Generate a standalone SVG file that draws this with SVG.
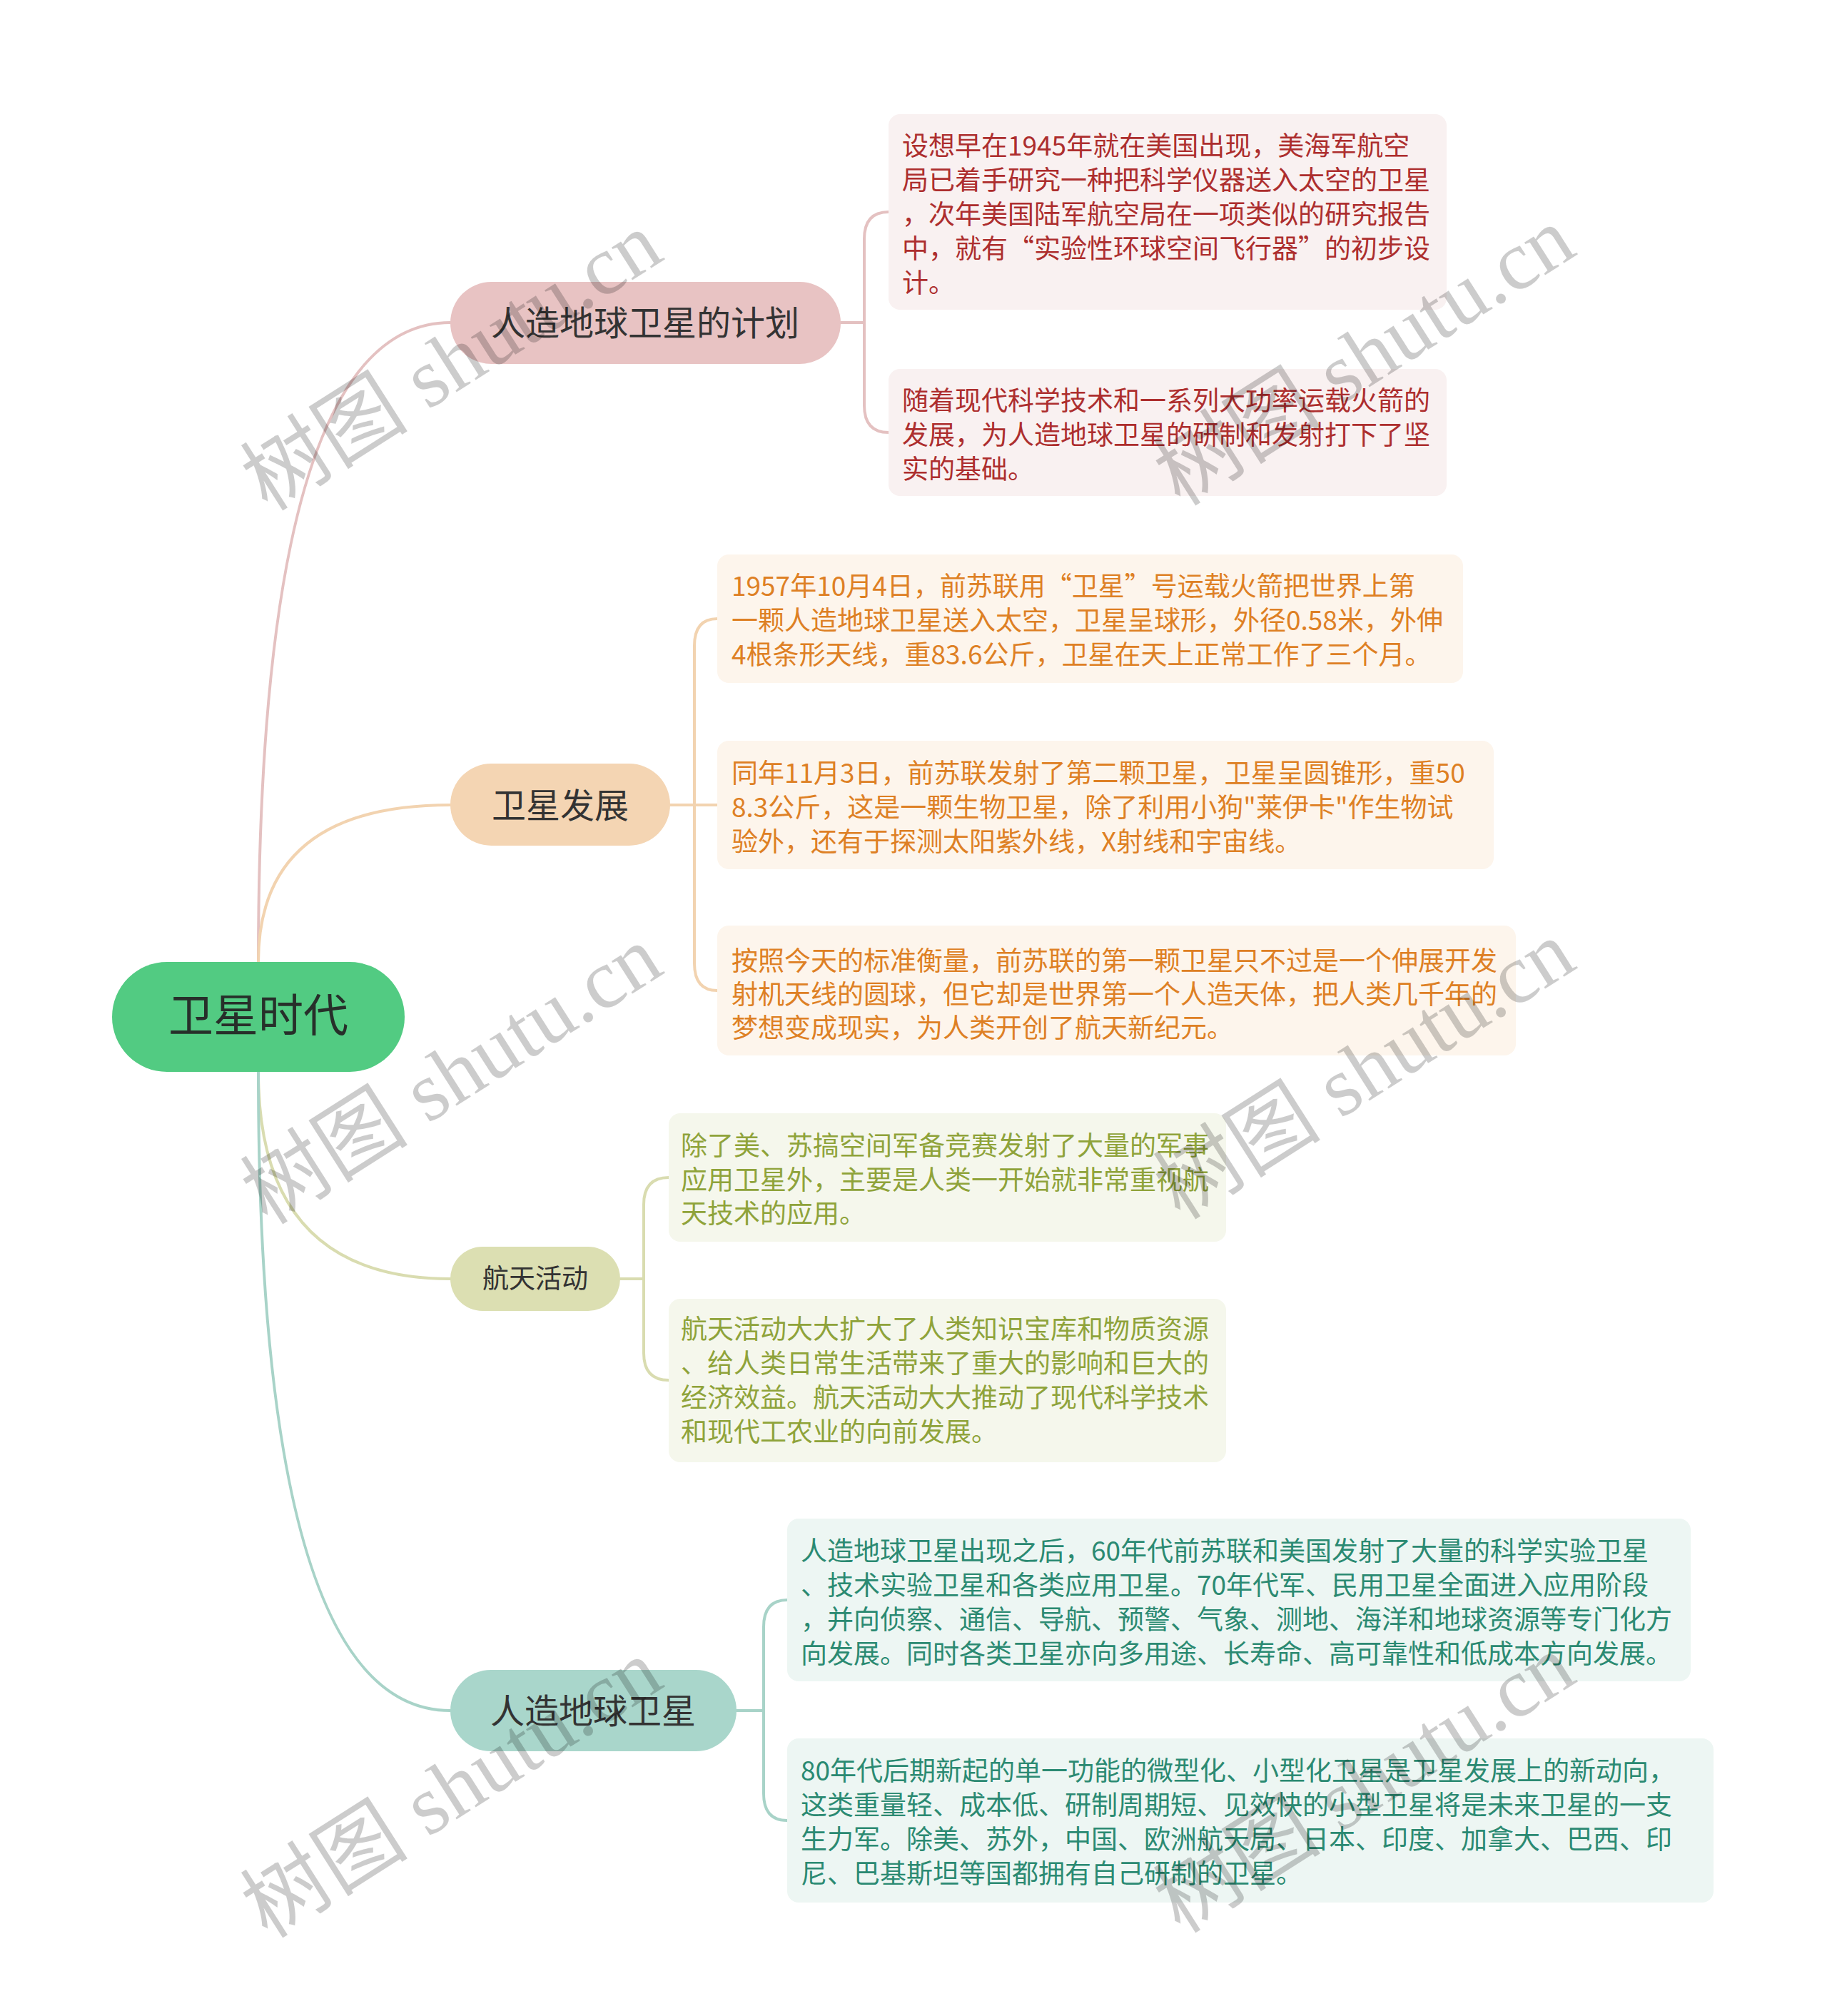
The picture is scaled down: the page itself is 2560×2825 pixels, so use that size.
<svg xmlns="http://www.w3.org/2000/svg" width="2560" height="2825" viewBox="0 0 2560 2825">
<style>
text{font-family:"Noto Sans CJK SC","Noto Sans",sans-serif}
.root{font-size:63px;fill:#272f2a;text-anchor:middle}
.main{font-size:48px;fill:#333;text-anchor:middle}
.sub{font-size:37px;fill:#333;text-anchor:middle}
.leaf{font-size:37px}
.c{fill:none;stroke-width:4;stroke-linecap:round}
.wm{font-family:"Liberation Serif","Noto Sans CJK SC",serif;font-size:118px;fill:#000;fill-opacity:0.2}
</style>
<rect width="2560" height="2825" fill="#fff"/>
<g id="connectors">
<path class="c" stroke="#e4c1c1" d="M362 1348 Q362 452 631 452"/>
<path class="c" stroke="#f2d3b0" d="M362 1348 Q362 1128 631 1128"/>
<path class="c" stroke="#d9dcb0" d="M362 1502 Q362 1792 631 1792"/>
<path class="c" stroke="#a8d3c8" d="M362 1502 Q362 2397 631 2397"/>
<path class="c" stroke="#e4c1c1" d="M1178 452 H1211 M1211 452 V335 Q1211 297 1245 297 M1211 452 V568 Q1211 606 1245 606"/>
<path class="c" stroke="#f2d3b0" d="M939 1128 H973 M973 1128 V905 Q973 867 1005 867 M973 1128 H1005 M973 1128 V1350 Q973 1388 1005 1388"/>
<path class="c" stroke="#d9dcb0" d="M869 1792 H902 M902 1792 V1688 Q902 1650 937 1650 M902 1792 V1896 Q902 1934 937 1934"/>
<path class="c" stroke="#a8d3c8" d="M1032 2397 H1070 M1070 2397 V2280 Q1070 2242 1103 2242 M1070 2397 V2513 Q1070 2551 1103 2551"/>
</g>
<g id="root">
<rect x="157" y="1348" width="410" height="154" rx="77" fill="#52cb82"/>
<text class="root" x="362" y="1445">卫星时代</text>
</g>
<g id="b1">
<rect x="631" y="395" width="547" height="115" rx="57.5" fill="#e8c3c3"/>
<text class="main" x="904" y="470">人造地球卫星的计划</text>
</g>
<g id="b1-l1">
<rect x="1245" y="160" width="782" height="274" rx="16" fill="#f9f1f1"/>
<text class="leaf" fill="#ad2e2e"><tspan x="1264" y="218">设想早在1945年就在美国出现，美海军航空</tspan><tspan x="1264" y="266">局已着手研究一种把科学仪器送入太空的卫星</tspan><tspan x="1264" y="314">，次年美国陆军航空局在一项类似的研究报告</tspan><tspan x="1264" y="362">中，就有“实验性环球空间飞行器”的初步设</tspan><tspan x="1264" y="410">计。</tspan></text>
</g>
<g id="b1-l2">
<rect x="1245" y="517" width="782" height="178" rx="16" fill="#f9f1f1"/>
<text class="leaf" fill="#ad2e2e"><tspan x="1264" y="575">随着现代科学技术和一系列大功率运载火箭的</tspan><tspan x="1264" y="623">发展，为人造地球卫星的研制和发射打下了坚</tspan><tspan x="1264" y="671">实的基础。</tspan></text>
</g>
<g id="b2">
<rect x="631" y="1070" width="308" height="115" rx="57.5" fill="#f4d5b3"/>
<text class="main" x="785" y="1146">卫星发展</text>
</g>
<g id="b2-l1">
<rect x="1005" y="777" width="1045" height="180" rx="16" fill="#fdf5ec"/>
<text class="leaf" fill="#de8024"><tspan x="1025" y="835">1957年10月4日，前苏联用“卫星”号运载火箭把世界上第</tspan><tspan x="1025" y="883">一颗人造地球卫星送入太空，卫星呈球形，外径0.58米，外伸</tspan><tspan x="1025" y="931">4根条形天线，重83.6公斤，卫星在天上正常工作了三个月。</tspan></text>
</g>
<g id="b2-l2">
<rect x="1005" y="1038" width="1088" height="180" rx="16" fill="#fdf5ec"/>
<text class="leaf" fill="#de8024"><tspan x="1025" y="1097">同年11月3日，前苏联发射了第二颗卫星，卫星呈圆锥形，重50</tspan><tspan x="1025" y="1145">8.3公斤，这是一颗生物卫星，除了利用小狗"莱伊卡"作生物试</tspan><tspan x="1025" y="1193">验外，还有于探测太阳紫外线，X射线和宇宙线。</tspan></text>
</g>
<g id="b2-l3">
<rect x="1005" y="1297" width="1119" height="182" rx="16" fill="#fdf5ec"/>
<text class="leaf" fill="#de8024"><tspan x="1025" y="1360">按照今天的标准衡量，前苏联的第一颗卫星只不过是一个伸展开发</tspan><tspan x="1025" y="1407">射机天线的圆球，但它却是世界第一个人造天体，把人类几千年的</tspan><tspan x="1025" y="1454">梦想变成现实，为人类开创了航天新纪元。</tspan></text>
</g>
<g id="b3">
<rect x="631" y="1747" width="238" height="90" rx="45" fill="#dcdfb2"/>
<text class="sub" x="750" y="1805">航天活动</text>
</g>
<g id="b3-l1">
<rect x="937" y="1560" width="781" height="180" rx="16" fill="#f5f7ec"/>
<text class="leaf" fill="#8fa33a"><tspan x="954" y="1619">除了美、苏搞空间军备竞赛发射了大量的军事</tspan><tspan x="954" y="1667">应用卫星外，主要是人类一开始就非常重视航</tspan><tspan x="954" y="1714">天技术的应用。</tspan></text>
</g>
<g id="b3-l2">
<rect x="937" y="1820" width="781" height="229" rx="16" fill="#f5f7ec"/>
<text class="leaf" fill="#8fa33a"><tspan x="954" y="1876">航天活动大大扩大了人类知识宝库和物质资源</tspan><tspan x="954" y="1924">、给人类日常生活带来了重大的影响和巨大的</tspan><tspan x="954" y="1972">经济效益。航天活动大大推动了现代科学技术</tspan><tspan x="954" y="2020">和现代工农业的向前发展。</tspan></text>
</g>
<g id="b4">
<rect x="631" y="2340" width="401" height="114" rx="57" fill="#a9d6cb"/>
<text class="main" x="831" y="2415">人造地球卫星</text>
</g>
<g id="b4-l1">
<rect x="1103" y="2128" width="1266" height="228" rx="16" fill="#edf6f3"/>
<text class="leaf" fill="#2b8a72"><tspan x="1122" y="2187">人造地球卫星出现之后，60年代前苏联和美国发射了大量的科学实验卫星</tspan><tspan x="1122" y="2235">、技术实验卫星和各类应用卫星。70年代军、民用卫星全面进入应用阶段</tspan><tspan x="1122" y="2283">，并向侦察、通信、导航、预警、气象、测地、海洋和地球资源等专门化方</tspan><tspan x="1122" y="2331">向发展。同时各类卫星亦向多用途、长寿命、高可靠性和低成本方向发展。</tspan></text>
</g>
<g id="b4-l2">
<rect x="1103" y="2436" width="1298" height="230" rx="16" fill="#edf6f3"/>
<text class="leaf" fill="#2b8a72"><tspan x="1122" y="2495">80年代后期新起的单一功能的微型化、小型化卫星是卫星发展上的新动向，</tspan><tspan x="1122" y="2543">这类重量轻、成本低、研制周期短、见效快的小型卫星将是未来卫星的一支</tspan><tspan x="1122" y="2591">生力军。除美、苏外，中国、欧洲航天局、日本、印度、加拿大、巴西、印</tspan><tspan x="1122" y="2639">尼、巴基斯坦等国都拥有自己研制的卫星。</tspan></text>
</g>
<g id="watermarks">
<text class="wm" transform="translate(375 718) rotate(-32.5)">树图 shutu.cn</text>
<text class="wm" transform="translate(1654 711) rotate(-32.5)">树图 shutu.cn</text>
<text class="wm" transform="translate(375 1718) rotate(-32.5)">树图 shutu.cn</text>
<text class="wm" transform="translate(1654 1711) rotate(-32.5)">树图 shutu.cn</text>
<text class="wm" transform="translate(375 2718) rotate(-32.5)">树图 shutu.cn</text>
<text class="wm" transform="translate(1654 2711) rotate(-32.5)">树图 shutu.cn</text>
</g>
</svg>
